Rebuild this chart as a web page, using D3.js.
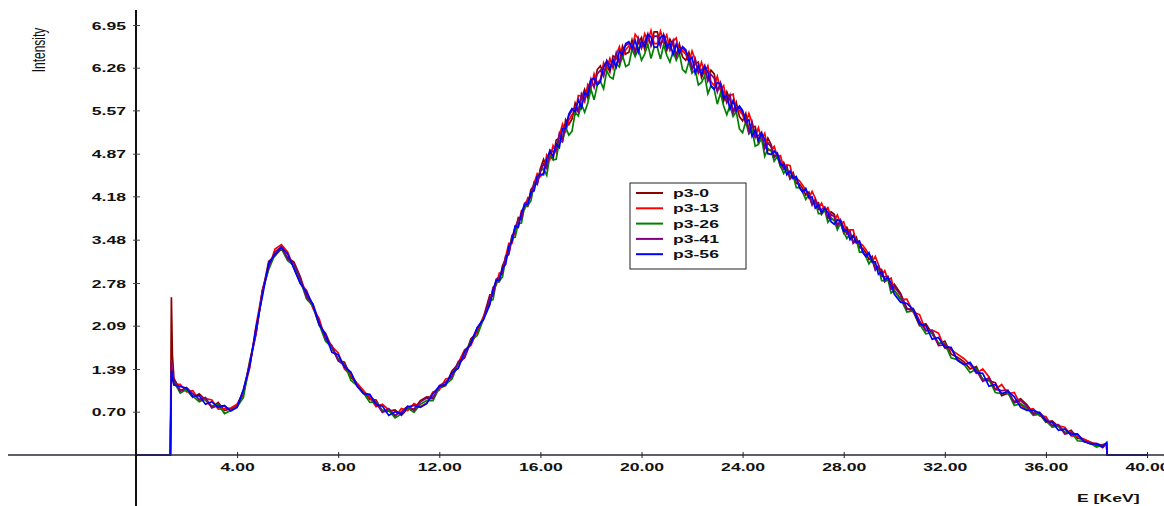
<!DOCTYPE html>
<html>
<head>
<meta charset="utf-8">
<script src="https://cdn.jsdelivr.net/npm/d3@7"></script>
<style>
  html, body { margin: 0; padding: 0; background: #fff; }
  svg { display: block; }
  text { font-family: "Liberation Sans", Arial, sans-serif; fill: #111; }
</style>
</head>
<body>
<div id="chart"></div>
<script>
// energy channels (keV) - finer around the big hump where the noise is heavy
const energy = [
  0, 1.36, 1.40, 1.44,
  1.5,1.75,2,2.25,2.5,2.75,3,3.25,3.5,3.75,
  4,4.25,4.5,4.75,5,5.25,5.5,5.75,6,6.25,
  6.5,6.75,7,7.25,7.5,7.75,8,8.25,8.5,8.75,
  9,9.25,9.5,9.75,10,10.25,10.5,10.75,11,11.25,
  11.5,11.75,12,12.25,12.5,12.75,13,13.25,13.5,13.75,
  14,14.125,14.25,14.375,14.5,14.625,14.75,14.875,
  15,15.125,15.25,15.375,15.5,15.625,15.75,15.875,
  16,16.125,16.25,16.375,16.5,16.625,16.75,16.875,
  17,17.125,17.25,17.375,17.5,17.625,17.75,17.875,
  18,18.125,18.25,18.375,18.5,18.625,18.75,18.875,
  19,19.125,19.25,19.375,19.5,19.625,19.75,19.875,
  20,20.125,20.25,20.375,20.5,20.625,20.75,20.875,
  21,21.125,21.25,21.375,21.5,21.625,21.75,21.875,
  22,22.125,22.25,22.375,22.5,22.625,22.75,22.875,
  23,23.125,23.25,23.375,23.5,23.625,23.75,23.875,
  24,24.125,24.25,24.375,24.5,24.625,24.75,24.875,
  25,25.125,25.25,25.375,25.5,25.625,25.75,25.875,
  26,26.125,26.25,26.375,26.5,26.625,26.75,26.875,
  27,27.125,27.25,27.375,27.5,27.625,27.75,27.875,
  28,28.125,28.25,28.375,28.5,28.625,28.75,28.875,
  29,29.125,29.25,29.375,29.5,29.625,29.75,29.875,
  30,
  30.25,30.5,30.75,31,31.25,31.5,31.75,32,32.25,32.5,32.75,
  33,33.25,33.5,33.75,34,34.25,34.5,34.75,35,35.25,35.5,35.75,
  36,36.25,36.5,36.75,37,37.25,37.5,37.75,38,38.25,
  38.4, 38.42, 40
];

const p3_0 = [
  0, 0, 2.55, 1.62,
  1.24,1.05,1.05,0.93,0.99,0.89,0.77,0.85,0.72,0.75,
  0.81,0.98,1.52,1.97,2.63,3.13,3.22,3.33,3.19,3.12,
  2.88,2.57,2.40,2.09,1.97,1.73,1.53,1.50,1.26,1.15,
  1.03,0.90,0.89,0.70,0.71,0.73,0.64,0.75,0.74,0.88,
  0.94,0.93,1.08,1.12,1.36,1.47,1.58,1.88,1.98,2.23,
  2.59,2.59,2.79,2.80,3.06,3.17,3.26,3.55,3.59,3.84,3.83,4.02,4.02,4.29,4.36,4.39,4.63,
  4.78,4.66,4.85,4.78,5.09,5.12,5.10,5.42,5.34,
  5.43,5.69,5.56,5.76,5.91,5.77,6.00,5.97,6.23,
  6.29,6.15,6.30,6.19,6.45,6.42,6.35,6.61,6.48,
  6.51,6.71,6.52,6.66,6.75,6.56,6.73,6.64,6.84,
  6.84,6.63,6.72,6.54,6.72,6.62,6.46,6.64,6.43,
  6.38,6.51,6.25,6.32,6.35,6.10,6.22,6.07,6.22,
  6.16,5.90,5.94,5.72,5.87,5.74,5.55,5.70,5.47,
  5.40,5.52,5.24,5.30,5.31,5.04,5.14,4.98,5.12,
  5.02,4.83,4.83,4.66,4.73,4.62,4.48,4.56,4.39,4.38,
  4.31,4.20,4.25,4.06,4.08,4.08,3.89,3.96,3.84,3.93,
  3.89,3.72,3.75,3.59,3.68,3.57,3.44,3.52,3.35,3.34,
  3.27,3.16,3.21,3.01,3.01,3.00,2.80,2.84,2.70,2.76,
  2.61,2.37,2.32,2.09,2.12,1.96,1.79,1.84,1.63,1.58,
  1.51,1.39,1.43,1.21,1.20,1.17,0.96,1.00,0.86,0.91,
  0.81,0.68,0.66,0.53,0.55,0.46,0.35,0.40,0.27,0.25,
  0.21,0.15,0.17,
  0.18, 0, 0
];

const p3_13 = [
  0, 0, 1.42, 1.28,
  1.14,1.14,1.02,1.04,0.88,0.91,0.89,0.74,0.75,0.76,
  0.82,1.01,1.41,2.09,2.65,3.02,3.33,3.40,3.28,3.02,
  2.78,2.66,2.37,2.20,1.86,1.75,1.65,1.39,1.29,1.16,
  1.04,0.93,0.78,0.82,0.73,0.62,0.75,0.72,0.83,0.78,
  0.84,1.02,1.05,1.23,1.25,1.49,1.70,1.77,2.01,2.24,
  2.45,2.71,2.74,2.94,2.93,3.20,3.42,3.42,3.63,3.70,3.95,3.97,4.16,4.16,4.39,4.55,4.50,
  4.56,4.85,4.78,5.00,4.89,5.16,5.35,5.23,5.41,
  5.50,5.50,5.81,5.80,5.71,5.99,5.93,6.16,6.01,
  6.07,6.34,6.23,6.41,6.25,6.46,6.60,6.42,6.55,
  6.61,6.55,6.80,6.73,6.58,6.81,6.69,6.86,6.65,
  6.65,6.85,6.68,6.79,6.55,6.69,6.74,6.48,6.53,
  6.48,6.35,6.53,6.39,6.18,6.35,6.18,6.29,6.03,
  5.97,6.12,5.90,5.97,5.70,5.81,5.83,5.54,5.57,
  5.50,5.36,5.52,5.37,5.14,5.29,5.10,5.20,4.93,
  4.92,4.99,4.82,4.84,4.64,4.69,4.68,4.47,4.47,4.43,
  4.36,4.28,4.16,4.26,4.15,3.99,4.07,3.95,4.00,3.83,
  3.79,3.88,3.74,3.77,3.59,3.64,3.64,3.43,3.43,3.39,
  3.32,3.24,3.12,3.21,3.08,2.91,2.98,2.83,2.86,2.66,
  2.51,2.52,2.31,2.27,2.01,2.02,1.97,1.73,1.70,1.63,
  1.56,1.46,1.32,1.39,1.26,1.06,1.14,0.99,1.01,0.81,
  0.73,0.75,0.63,0.62,0.46,0.47,0.45,0.31,0.30,0.26,
  0.21,0.17,0.12,
  0.19, 0, 0
];

const p3_26 = [
  0, 0, 1.38, 1.24,
  1.18,1.00,1.06,0.95,0.86,0.90,0.79,0.82,0.67,0.72,
  0.78,0.93,1.49,1.99,2.64,3.00,3.24,3.34,3.14,3.06,
  2.82,2.52,2.41,2.11,1.84,1.74,1.55,1.47,1.21,1.12,
  1.00,0.85,0.86,0.72,0.72,0.60,0.66,0.76,0.69,0.82,
  0.88,0.88,1.09,1.14,1.23,1.48,1.60,1.85,1.93,2.20,
  2.49,2.51,2.79,2.81,2.88,3.18,3.27,3.51,3.52,3.74,3.75,4.02,4.03,4.11,4.37,4.40,4.59,
  4.63,4.52,4.84,4.77,4.78,5.08,5.06,5.30,5.17,
  5.23,5.54,5.48,5.67,5.54,5.69,5.91,5.74,5.98,
  6.04,5.92,6.21,6.11,6.08,6.33,6.27,6.46,6.28,
  6.31,6.56,6.44,6.57,6.38,6.48,6.64,6.41,6.59,
  6.59,6.40,6.63,6.46,6.35,6.53,6.38,6.49,6.23,
  6.18,6.36,6.17,6.23,5.98,6.02,6.13,5.84,5.97,
  5.91,5.67,5.85,5.64,5.50,5.65,5.47,5.55,5.27,
  5.21,5.39,5.19,5.25,4.99,5.02,5.12,4.83,4.95,
  4.92,4.75,4.83,4.67,4.55,4.63,4.49,4.52,4.32,4.32,
  4.25,4.13,4.21,4.07,4.09,3.90,3.90,3.96,3.76,3.83,
  3.79,3.64,3.75,3.60,3.50,3.58,3.45,3.48,3.28,3.28,
  3.21,3.09,3.17,3.02,3.02,2.82,2.81,2.84,2.62,2.66,
  2.53,2.31,2.33,2.12,1.96,1.98,1.81,1.80,1.57,1.54,
  1.47,1.33,1.39,1.23,1.22,1.01,0.99,1.01,0.80,0.83,
  0.76,0.64,0.66,0.55,0.45,0.47,0.37,0.37,0.23,0.22,
  0.19,0.13,0.16,
  0.17, 0, 0
];

const p3_41 = [
  0, 0, 1.50, 1.30,
  1.22,1.03,1.09,0.99,0.90,0.93,0.76,0.80,0.79,0.72,
  0.78,1.05,1.47,1.96,2.67,3.04,3.28,3.37,3.17,3.10,
  2.86,2.55,2.44,2.15,1.88,1.77,1.52,1.45,1.33,1.12,
  1.00,0.97,0.84,0.69,0.75,0.64,0.70,0.79,0.72,0.86,
  0.92,0.91,1.12,1.18,1.27,1.51,1.57,1.83,2.05,2.20,
  2.55,2.57,2.84,2.88,2.95,3.22,3.24,3.50,3.68,3.80,3.81,4.07,4.10,4.18,4.41,4.37,4.58,
  4.71,4.63,4.93,4.90,4.92,5.20,5.08,5.34,5.48,
  5.57,5.61,5.54,5.84,5.74,5.89,6.08,5.94,6.16,
  6.22,6.12,6.38,6.31,6.28,6.50,6.33,6.53,6.62,
  6.65,6.63,6.50,6.74,6.58,6.68,6.81,6.61,6.77,
  6.77,6.60,6.80,6.66,6.55,6.70,6.44,6.56,6.57,
  6.52,6.43,6.23,6.40,6.18,6.22,6.30,6.04,6.15,
  6.09,5.87,6.02,5.84,5.70,5.82,5.53,5.62,5.61,
  5.54,5.44,5.22,5.38,5.14,5.16,5.22,4.95,5.05,
  4.98,4.81,4.88,4.74,4.62,4.67,4.46,4.51,4.48,4.33,
  4.26,4.29,4.20,4.04,4.13,3.97,3.97,4.01,3.82,3.89,
  3.85,3.70,3.80,3.67,3.57,3.62,3.42,3.47,3.44,3.29,
  3.22,3.25,3.16,2.99,3.06,2.89,2.88,2.89,2.68,2.72,
  2.58,2.35,2.37,2.17,2.01,2.01,1.77,1.78,1.72,1.54,
  1.47,1.48,1.37,1.19,1.25,1.06,1.04,1.05,0.84,0.88,
  0.79,0.66,0.69,0.58,0.48,0.49,0.34,0.36,0.33,0.22,
  0.19,0.19,0.15,
  0.19, 0, 0
];

const p3_56 = [
  0, 0, 1.36, 1.26,
  1.13,1.11,1.08,0.95,0.96,0.82,0.86,0.77,0.80,0.71,
  0.77,1.06,1.44,2.06,2.56,3.10,3.24,3.36,3.25,3.01,
  2.77,2.63,2.43,2.11,1.94,1.66,1.62,1.42,1.34,1.11,
  0.99,0.98,0.81,0.79,0.64,0.70,0.66,0.78,0.80,0.77,
  0.83,0.99,1.11,1.14,1.33,1.40,1.67,1.80,2.06,2.19,
  2.43,2.67,2.82,2.83,3.02,3.08,3.37,3.46,3.70,3.68,3.91,4.05,4.05,4.25,4.27,4.50,4.54,
  4.53,4.78,4.91,4.83,5.03,4.97,5.28,5.28,5.51,
  5.60,5.55,5.74,5.61,5.85,5.82,6.06,6.09,5.98,
  6.04,6.27,6.36,6.24,6.39,6.27,6.53,6.47,6.65,
  6.68,6.57,6.70,6.51,6.69,6.61,6.79,6.76,6.59,
  6.59,6.75,6.78,6.59,6.66,6.47,6.64,6.50,6.60,
  6.55,6.37,6.43,6.17,6.29,6.15,6.28,6.19,5.97,
  5.91,6.02,6.00,5.77,5.81,5.59,5.73,5.56,5.64,
  5.57,5.38,5.42,5.15,5.25,5.09,5.20,5.10,4.87,
  4.86,4.91,4.86,4.69,4.69,4.53,4.59,4.47,4.50,4.32,
  4.25,4.31,4.16,4.17,3.99,4.04,3.92,3.99,3.92,3.77,
  3.73,3.80,3.78,3.62,3.64,3.48,3.55,3.43,3.46,3.28,
  3.21,3.27,3.12,3.12,2.92,2.96,2.83,2.87,2.78,2.60,
  2.47,2.45,2.35,2.12,2.09,1.87,1.90,1.74,1.74,1.53,
  1.46,1.50,1.33,1.32,1.11,1.14,0.99,1.03,0.94,0.77,
  0.72,0.72,0.68,0.55,0.53,0.40,0.42,0.33,0.34,0.22,
  0.18,0.18,0.13,
  0.20, 0, 0
];

const seriesNames = ['p3-0', 'p3-13', 'p3-26', 'p3-41', 'p3-56'];
const seriesValues = [p3_0, p3_13, p3_26, p3_41, p3_56];
const seriesColors = ['#8b0000', '#ff0000', '#008000', '#800080', '#0000ff'];

const xTicks = [4, 8, 12, 16, 20, 24, 28, 32, 36, 40];
const yTickLabels = ['0.70', '1.39', '2.09', '2.78', '3.48', '4.18', '4.87', '5.57', '6.26', '6.95'];

const width = 1164, height = 506;
const stretch = 1.6; // text in the original is drawn horizontally stretched

const x = d3.scaleLinear().domain([0, 40]).range([136, 1147]);
const y = d3.scaleLinear().domain([0, 6.95]).range([455, 25]);

const svg = d3.select('#chart').append('svg')
  .attr('width', width)
  .attr('height', height);

// series
const line = d3.line()
  .defined((d, i) => d != null && energy[i] != null)
  .x((d, i) => x(energy[i]))
  .y(d => y(d));

seriesValues.forEach((vals, k) => {
  svg.append('path')
    .datum(vals)
    .attr('fill', 'none')
    .attr('stroke', seriesColors[k])
    .attr('stroke-width', 1.7)
    .attr('d', line);
});

// axis lines (they run past the plot like in the original)
svg.append('line')
  .attr('x1', 8).attr('x2', width)
  .attr('y1', y(0)).attr('y2', y(0))
  .attr('stroke', '#2a2a3a').attr('stroke-width', 1.4);

svg.append('line')
  .attr('x1', x(0)).attr('x2', x(0))
  .attr('y1', 10).attr('y2', height)
  .attr('stroke', '#111').attr('stroke-width', 2);

// x axis ticks + labels
const xAxis = svg.append('g')
  .attr('transform', `translate(0,${y(0)})`)
  .call(d3.axisBottom(x).tickValues(xTicks).tickFormat(d3.format('.2f')));
xAxis.select('.domain').remove();
xAxis.selectAll('.tick line').attr('y1', -3).attr('y2', 3).attr('stroke', '#222');
xAxis.selectAll('.tick text')
  .attr('y', null).attr('dy', null)
  .attr('transform', `translate(0,16) scale(${stretch},1)`)
  .style('font-size', '11px').style('font-weight', 'bold')
  .style('font-family', '"Liberation Sans", Arial, sans-serif').style('fill', '#111');

// y axis ticks + labels
const yAxis = svg.append('g')
  .attr('transform', `translate(${x(0)},0)`)
  .call(d3.axisLeft(y).tickValues(yTickLabels.map(Number)).tickFormat((d, i) => yTickLabels[i]));
yAxis.select('.domain').remove();
yAxis.selectAll('.tick line').attr('x1', -3).attr('x2', 4).attr('stroke', '#444');
yAxis.selectAll('.tick text')
  .attr('x', null).attr('dy', null)
  .attr('transform', `translate(-10,4) scale(${stretch},1)`)
  .style('font-size', '11px').style('font-weight', 'bold')
  .style('font-family', '"Liberation Sans", Arial, sans-serif').style('fill', '#111');

// axis titles
svg.append('text')
  .attr('transform', `translate(45,50) scale(${stretch},1) rotate(-90)`)
  .attr('text-anchor', 'middle')
  .style('font-size', '12px')
  .text('Intensity');

svg.append('text')
  .attr('transform', `translate(1077,502) scale(${stretch},1)`)
  .style('font-size', '11px').style('font-weight', 'bold')
  .text('E [KeV]');

// legend
const legend = svg.append('g').attr('transform', 'translate(630,183)');
legend.append('rect')
  .attr('width', 116).attr('height', 86)
  .attr('fill', '#fff').attr('stroke', '#222').attr('stroke-width', 1);

seriesNames.forEach((name, i) => {
  const row = legend.append('g').attr('transform', `translate(0,${10 + i * 15.3})`);
  row.append('line')
    .attr('x1', 6).attr('x2', 33)
    .attr('stroke', seriesColors[i]).attr('stroke-width', 2);
  row.append('text')
    .attr('transform', `translate(43,4) scale(${stretch},1)`)
    .style('font-size', '11px').style('font-weight', 'bold')
    .text(name);
});
</script>
</body>
</html>
